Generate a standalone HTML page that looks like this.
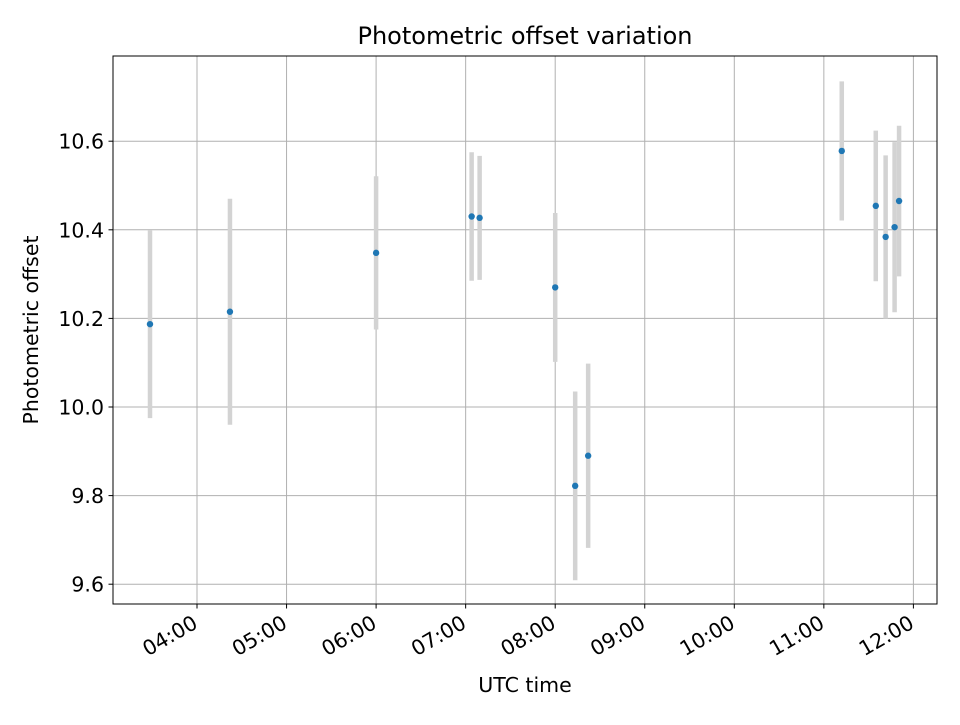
<!DOCTYPE html>
<html><head><meta charset="utf-8"><style>
body{margin:0;background:#fff;font-family:"Liberation Sans","DejaVu Sans",sans-serif;}
svg text{font-family:"DejaVu Sans","Liberation Sans",sans-serif;}
</style></head><body>
<svg id="chart" width="960" height="720" viewBox="0 0 960 720" xmlns="http://www.w3.org/2000/svg">
<rect width="960" height="720" fill="#fff"/>
<text x="525" y="44" style="font-size:24px" text-anchor="middle">Photometric offset variation</text>
<g id="grid"></g>
<g id="marks"></g>
<rect x="113" y="56" width="824" height="548" fill="none" stroke="#000" stroke-width="1"/>
<g id="axes"></g>
<text x="525" y="692" style="font-size:20.5px" text-anchor="middle">UTC time</text>
<text x="38" y="330" style="font-size:20.5px" text-anchor="middle" transform="rotate(-90 38 330)">Photometric offset</text>
</svg>
<script>
const times = [3.475, 4.368, 6.0, 7.067, 7.156, 8.0, 8.223, 8.368, 11.2, 11.58, 11.69, 11.79, 11.84];
const offsets = [10.187, 10.215, 10.348, 10.43, 10.427, 10.27, 9.822, 9.89, 10.578, 10.454, 10.384, 10.406, 10.465];
const errors = [0.212, 0.255, 0.173, 0.145, 0.14, 0.168, 0.213, 0.208, 0.157, 0.17, 0.184, 0.192, 0.17];
const xTicks = [4, 5, 6, 7, 8, 9, 10, 11, 12];
const xTickLabels = ["04:00", "05:00", "06:00", "07:00", "08:00", "09:00", "10:00", "11:00", "12:00"];
const yTicks = [9.6, 9.8, 10.0, 10.2, 10.4, 10.6];
const yTickLabels = ["9.6", "9.8", "10.0", "10.2", "10.4", "10.6"];

const NS = "http://www.w3.org/2000/svg";
function xs(h){ return 197 + (h - 4) * 89.55; }
function ys(v){ return 407 - (v - 10) * 443; }
function mk(tag, attrs, parent){
  const e = document.createElementNS(NS, tag);
  for (const k in attrs) e.setAttribute(k, attrs[k]);
  parent.appendChild(e);
  return e;
}
const grid = document.getElementById("grid");
const axes = document.getElementById("axes");
const marks = document.getElementById("marks");

xTicks.forEach((t, i) => {
  const x = xs(t);
  const g = mk("line", {x1:x, x2:x, y1:56, y2:604, stroke:"#b0b0b0", "stroke-width":1}, grid);
  
  
  const tk = mk("line", {x1:x, x2:x, y1:604, y2:608.5, stroke:"#000"}, axes);
  
  
  const ax = x + 2, ay = 627;
  const lb = mk("text", {x:ax, y:ay, style:"font-size:20.5px", "text-anchor":"end", transform:"rotate(-30 "+ax+" "+ay+")"}, axes);
  lb.textContent = xTickLabels[i];
  
  
});
yTicks.forEach((t, i) => {
  const y = ys(t);
  const g = mk("line", {x1:113, x2:937, y1:y, y2:y, stroke:"#b0b0b0", "stroke-width":1}, grid);
  
  
  const tk = mk("line", {x1:108.5, x2:113, y1:y, y2:y, stroke:"#000"}, axes);
  
  
  const lb = mk("text", {x:104, y:y+7.5, style:"font-size:20.5px", "text-anchor":"end"}, axes);
  lb.textContent = yTickLabels[i];
  
  
});
times.forEach((t, i) => {
  const x = xs(t);
  const eb = mk("line", {x1:x, x2:x, y1:ys(offsets[i]+errors[i]), y2:ys(offsets[i]-errors[i]), stroke:"#d3d3d3", "stroke-width":4.5}, marks);
  
  
});
times.forEach((t, i) => {
  const p = mk("circle", {cx:xs(t), cy:ys(offsets[i]), r:3.2, fill:"#1f77b4"}, marks);
  
  
});
</script>
</body></html>
